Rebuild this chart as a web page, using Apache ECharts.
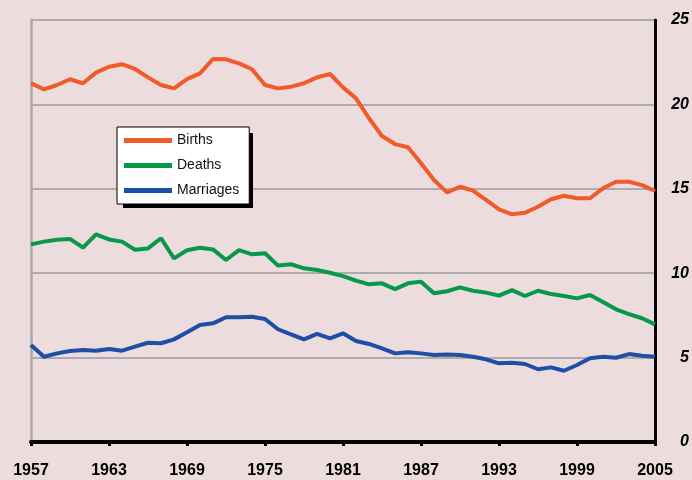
<!DOCTYPE html>
<html>
<head>
<meta charset="utf-8">
<script src="https://cdn.jsdelivr.net/npm/echarts@6/dist/echarts.min.js"></script>
<style>
  html, body { margin: 0; padding: 0; background: #ecdcdd; }
  #chart { width: 692px; height: 480px; }
</style>
</head>
<body>
<div id="chart"></div>
<script>
const years = [];
for (let y = 1957; y <= 2005; y++) years.push(String(y));

// rates per 1,000 population
const births = [21.25, 20.89, 21.15, 21.49, 21.25, 21.88, 22.23, 22.38, 22.1, 21.6,
  21.15, 20.95, 21.5, 21.84, 22.69, 22.67, 22.43, 22.08, 21.15, 20.95,
  21.05, 21.25, 21.6, 21.8, 21.01, 20.36, 19.18, 18.13, 17.65, 17.46,
  16.51, 15.52, 14.79, 15.12, 14.89, 14.34, 13.78, 13.49, 13.58, 13.94,
  14.38, 14.59, 14.44, 14.44, 15.03, 15.42, 15.42, 15.22, 14.87];
const deaths = [11.71, 11.87, 11.98, 12.03, 11.51, 12.3, 12.0, 11.87, 11.39, 11.47,
  12.07, 10.88, 11.36, 11.51, 11.41, 10.78, 11.37, 11.12, 11.18, 10.45,
  10.53, 10.29, 10.19, 10.03, 9.83, 9.56, 9.34, 9.4, 9.06, 9.4,
  9.5, 8.81, 8.93, 9.16, 8.96, 8.85, 8.67, 9.0, 8.65, 8.96,
  8.77, 8.65, 8.51, 8.71, 8.3, 7.86, 7.58, 7.33, 6.97];
const marriages = [5.75, 5.05, 5.25, 5.39, 5.45, 5.41, 5.51, 5.41, 5.65, 5.88,
  5.85, 6.08, 6.5, 6.93, 7.03, 7.39, 7.39, 7.42, 7.29, 6.68,
  6.38, 6.08, 6.4, 6.14, 6.44, 5.98, 5.81, 5.55, 5.25, 5.31,
  5.25, 5.15, 5.19, 5.15, 5.05, 4.9, 4.66, 4.7, 4.62, 4.31,
  4.42, 4.22, 4.56, 4.96, 5.05, 4.99, 5.21, 5.11, 5.05];

const chart = echarts.init(document.getElementById('chart'));

function lineSeries(name, data, color) {
  return {
    name: name,
    type: 'line',
    yAxisIndex: 1,
    data: data,
    showSymbol: false,
    symbol: 'none',
    lineStyle: { color: color, width: 4 },
    itemStyle: { color: color }
  };
}

chart.setOption({
  backgroundColor: '#ecdcdd',
  animation: false,
  grid: { left: 31, right: 37, top: 20, bottom: 38 },
  // solid drop shadow behind the legend box
  graphic: [{
    type: 'rect',
    left: 123,
    top: 133,
    z: 1,
    shape: { width: 130, height: 75 },
    style: { fill: '#000' }
  }],
  legend: {
    orient: 'vertical',
    left: 117,
    top: 127,
    z: 10,
    icon: 'rect',
    itemWidth: 48,
    itemHeight: 5,
    itemGap: 10,
    padding: [6, 10, 6, 7],
    backgroundColor: '#ffffff',
    borderColor: '#000000',
    borderWidth: 1,
    textStyle: { fontFamily: 'Liberation Sans', fontSize: 14, color: '#111', lineHeight: 15 },
    data: ['Births', 'Deaths', 'Marriages']
  },
  xAxis: {
    type: 'category',
    data: years,
    boundaryGap: false,
    axisLine: { lineStyle: { color: '#000', width: 4 } },
    axisTick: { interval: 5, length: 4, lineStyle: { color: '#000', width: 3 } },
    axisLabel: {
      interval: 5,
      margin: 21,
      fontFamily: 'Liberation Sans',
      fontWeight: 'bold',
      fontSize: 16,
      color: '#000'
    },
    splitLine: { show: false }
  },
  yAxis: [
    {
      type: 'value',
      position: 'left',
      min: 0,
      max: 25,
      interval: 5,
      axisLine: { show: true, lineStyle: { color: '#aaaaaa', width: 2.5 } },
      axisTick: { show: false },
      axisLabel: { show: false },
      splitLine: { show: false }
    },
    {
      type: 'value',
      position: 'right',
      min: 0,
      max: 25,
      interval: 5,
      axisLine: { show: true, lineStyle: { color: '#000', width: 3 } },
      axisTick: { show: false },
      axisLabel: {
        align: 'right',
        margin: 34,
        fontFamily: 'Liberation Sans',
        fontWeight: 'bold',
        fontStyle: 'italic',
        fontSize: 16,
        color: '#000'
      },
      splitLine: { show: true, lineStyle: { color: '#acacac', width: 2 } }
    }
  ],
  series: [
    lineSeries('Births', births, '#f15a29'),
    lineSeries('Deaths', deaths, '#08984a'),
    lineSeries('Marriages', marriages, '#1d4fa5')
  ]
});
</script>
</body>
</html>
